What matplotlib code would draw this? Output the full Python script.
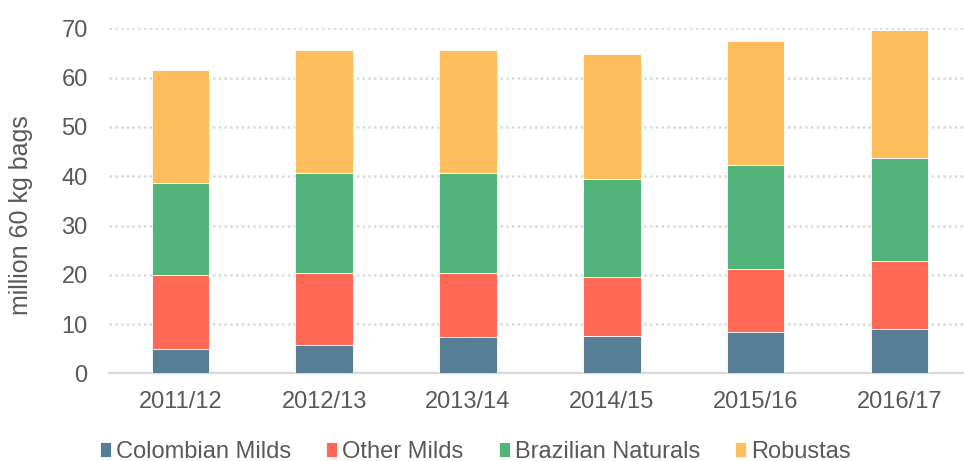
import numpy as np
import matplotlib.pyplot as plt
import matplotlib

matplotlib.rcParams['font.family'] = ['Liberation Sans', 'DejaVu Sans']

# data (million 60 kg bags)
seasons = ['2011/12', '2012/13', '2013/14', '2014/15', '2015/16', '2016/17']
colombian_milds = [5.0, 5.7, 7.4, 7.6, 8.4, 9.1]
other_milds = [14.9, 14.6, 12.9, 11.9, 12.7, 13.7]
brazilian_naturals = [18.8, 20.3, 20.3, 19.9, 21.2, 20.9]
robustas = [22.8, 25.1, 25.1, 25.4, 25.2, 25.9]

series = [
    ('Colombian Milds', colombian_milds, '#567F96'),
    ('Other Milds', other_milds, '#FF6955'),
    ('Brazilian Naturals', brazilian_naturals, '#52B37B'),
    ('Robustas', robustas, '#FEBE5E'),
]

text_col = '#595959'
grid_col = '#D9D9D9'

fig = plt.figure(figsize=(9.64, 4.61), dpi=100)
ax = fig.add_axes([0.1126, 0.190, 0.8875, 0.7484])

x = np.arange(len(seasons))
bottom = np.zeros(len(seasons))
handles = []
for name, vals, col in series:
    b = ax.bar(x, vals, 0.4, bottom=bottom, color=col, edgecolor='white',
               linewidth=0.6, label=name, zorder=3)
    handles.append(b)
    bottom += np.array(vals)

ax.set_xlim(-0.5, 5.45)
ax.set_ylim(0, 70)
ax.set_yticks(np.arange(0, 71, 10))
ax.set_xticks(x)
ax.set_xticklabels(seasons)
ax.yaxis.grid(True, linestyle=(0, (1.0, 1.3)), color=grid_col, linewidth=1.8, zorder=0)
for s in ['top', 'right', 'left']:
    ax.spines[s].set_visible(False)
ax.spines['bottom'].set_color(grid_col)
ax.spines['bottom'].set_linewidth(1.6)
ax.tick_params(axis='both', length=0, labelsize=17, colors=text_col)
ax.tick_params(axis='x', pad=13)
ax.tick_params(axis='y', pad=15)
ax.set_ylabel('million 60 kg bags', fontsize=18, color=text_col)
ax.yaxis.set_label_coords(-0.088, 0.459)

leg = fig.legend(handles=handles, labels=[s[0] for s in series], loc='center',
                 bbox_to_anchor=(0.493, 0.02), ncol=4, frameon=False,
                 handlelength=0.47, handleheight=0.55, handletextpad=0.2,
                 columnspacing=1.5, borderpad=0, prop={'size': 17})
for t in leg.get_texts():
    t.set_color(text_col)

fig.savefig('out.png', dpi=100)
